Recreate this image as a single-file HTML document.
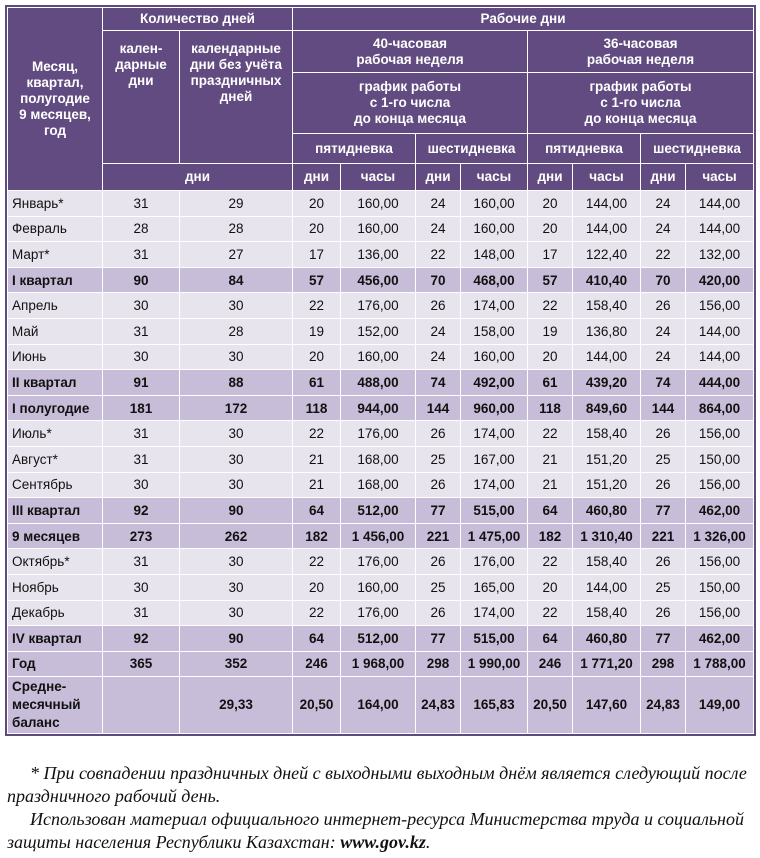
<!DOCTYPE html>
<html><head><meta charset="utf-8"><style>
body{margin:0;background:#fff;width:760px;height:858px;position:relative;font-family:"Liberation Sans",Arial,sans-serif;}
table{position:absolute;left:7px;top:7px;width:746px;border-collapse:collapse;table-layout:fixed;font-size:13.5px;outline:2px solid #5e4a7e;}
td,th{border:1.5px solid #fff;padding:0;text-align:center;color:#111;}
th{background:#614b80;color:#fff;font-weight:bold;line-height:16px;}
tr.m td{background:#e8e4ee;height:24.6px;}
tr.q td{background:#c8bdd8;height:24.6px;font-weight:bold;}
td.l{text-align:left;padding-left:4px;}
.foot{position:absolute;left:0;top:762px;width:752px;font-family:"Liberation Serif",serif;font-style:italic;font-size:18px;line-height:23px;color:#111;white-space:nowrap;}
</style></head><body>
<table>
<colgroup><col style="width:95px"><col style="width:77px"><col style="width:113px"><col style="width:48px"><col style="width:75px"><col style="width:45px"><col style="width:67px"><col style="width:45px"><col style="width:68px"><col style="width:45px"><col style="width:68px"></colgroup>
<tr style="height:23px"><th rowspan="5">Месяц,<br>квартал,<br>полугодие<br>9 месяцев,<br>год</th><th colspan="2">Количество дней</th><th colspan="8">Рабочие дни</th></tr>
<tr style="height:42px"><th rowspan="3" style="vertical-align:top;padding-top:10px">кален-<br>дарные<br>дни</th><th rowspan="3" style="vertical-align:top;padding-top:10px">календарные<br>дни без учёта<br>праздничных<br>дней</th><th colspan="4">40-часовая<br>рабочая неделя</th><th colspan="4">36-часовая<br>рабочая неделя</th></tr>
<tr style="height:61px"><th colspan="4">график работы<br>с 1-го числа<br>до конца месяца</th><th colspan="4">график работы<br>с 1-го числа<br>до конца месяца</th></tr>
<tr style="height:30px"><th colspan="2">пятидневка</th><th colspan="2">шестидневка</th><th colspan="2">пятидневка</th><th colspan="2">шестидневка</th></tr>
<tr style="height:27px"><th colspan="2">дни</th><th>дни</th><th>часы</th><th>дни</th><th>часы</th><th>дни</th><th>часы</th><th>дни</th><th>часы</th></tr>
<tr class="m"><td class="l">Январь*</td><td>31</td><td>29</td><td>20</td><td>160,00</td><td>24</td><td>160,00</td><td>20</td><td>144,00</td><td>24</td><td>144,00</td></tr>
<tr class="m"><td class="l">Февраль</td><td>28</td><td>28</td><td>20</td><td>160,00</td><td>24</td><td>160,00</td><td>20</td><td>144,00</td><td>24</td><td>144,00</td></tr>
<tr class="m"><td class="l">Март*</td><td>31</td><td>27</td><td>17</td><td>136,00</td><td>22</td><td>148,00</td><td>17</td><td>122,40</td><td>22</td><td>132,00</td></tr>
<tr class="q"><td class="l">I квартал</td><td>90</td><td>84</td><td>57</td><td>456,00</td><td>70</td><td>468,00</td><td>57</td><td>410,40</td><td>70</td><td>420,00</td></tr>
<tr class="m"><td class="l">Апрель</td><td>30</td><td>30</td><td>22</td><td>176,00</td><td>26</td><td>174,00</td><td>22</td><td>158,40</td><td>26</td><td>156,00</td></tr>
<tr class="m"><td class="l">Май</td><td>31</td><td>28</td><td>19</td><td>152,00</td><td>24</td><td>158,00</td><td>19</td><td>136,80</td><td>24</td><td>144,00</td></tr>
<tr class="m"><td class="l">Июнь</td><td>30</td><td>30</td><td>20</td><td>160,00</td><td>24</td><td>160,00</td><td>20</td><td>144,00</td><td>24</td><td>144,00</td></tr>
<tr class="q"><td class="l">II квартал</td><td>91</td><td>88</td><td>61</td><td>488,00</td><td>74</td><td>492,00</td><td>61</td><td>439,20</td><td>74</td><td>444,00</td></tr>
<tr class="q"><td class="l">I полугодие</td><td>181</td><td>172</td><td>118</td><td>944,00</td><td>144</td><td>960,00</td><td>118</td><td>849,60</td><td>144</td><td>864,00</td></tr>
<tr class="m"><td class="l">Июль*</td><td>31</td><td>30</td><td>22</td><td>176,00</td><td>26</td><td>174,00</td><td>22</td><td>158,40</td><td>26</td><td>156,00</td></tr>
<tr class="m"><td class="l">Август*</td><td>31</td><td>30</td><td>21</td><td>168,00</td><td>25</td><td>167,00</td><td>21</td><td>151,20</td><td>25</td><td>150,00</td></tr>
<tr class="m"><td class="l">Сентябрь</td><td>30</td><td>30</td><td>21</td><td>168,00</td><td>26</td><td>174,00</td><td>21</td><td>151,20</td><td>26</td><td>156,00</td></tr>
<tr class="q"><td class="l">III квартал</td><td>92</td><td>90</td><td>64</td><td>512,00</td><td>77</td><td>515,00</td><td>64</td><td>460,80</td><td>77</td><td>462,00</td></tr>
<tr class="q"><td class="l">9 месяцев</td><td>273</td><td>262</td><td>182</td><td>1 456,00</td><td>221</td><td>1 475,00</td><td>182</td><td>1 310,40</td><td>221</td><td>1 326,00</td></tr>
<tr class="m"><td class="l">Октябрь*</td><td>31</td><td>30</td><td>22</td><td>176,00</td><td>26</td><td>176,00</td><td>22</td><td>158,40</td><td>26</td><td>156,00</td></tr>
<tr class="m"><td class="l">Ноябрь</td><td>30</td><td>30</td><td>20</td><td>160,00</td><td>25</td><td>165,00</td><td>20</td><td>144,00</td><td>25</td><td>150,00</td></tr>
<tr class="m"><td class="l">Декабрь</td><td>31</td><td>30</td><td>22</td><td>176,00</td><td>26</td><td>174,00</td><td>22</td><td>158,40</td><td>26</td><td>156,00</td></tr>
<tr class="q"><td class="l">IV квартал</td><td>92</td><td>90</td><td>64</td><td>512,00</td><td>77</td><td>515,00</td><td>64</td><td>460,80</td><td>77</td><td>462,00</td></tr>
<tr class="q"><td class="l">Год</td><td>365</td><td>352</td><td>246</td><td>1 968,00</td><td>298</td><td>1 990,00</td><td>246</td><td>1 771,20</td><td>298</td><td>1 788,00</td></tr>
<tr class="q" style="line-height:18px"><td class="l" style="height:56px">Средне-<br>месячный<br>баланс</td><td></td><td>29,33</td><td>20,50</td><td>164,00</td><td>24,83</td><td>165,83</td><td>20,50</td><td>147,60</td><td>24,83</td><td>149,00</td></tr>
</table>
<div class="foot">
<div style="padding-left:30px">* При совпадении праздничных дней с выходными выходным днём является следующий после</div>
<div style="padding-left:7px">праздничного рабочий день.</div>
<div style="padding-left:30px">Использован материал официального интернет-ресурса Министерства труда и социальной</div>
<div style="padding-left:7px">защиты населения Республики Казахстан: <b>www.gov.kz</b>.</div>
</div>
</body></html>
